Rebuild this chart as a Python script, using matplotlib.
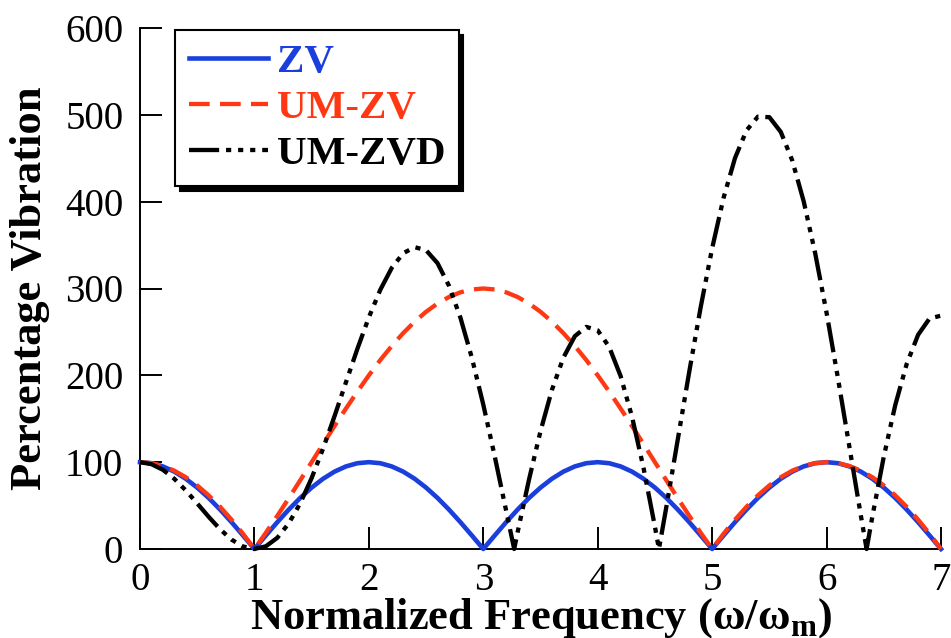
import numpy as np
import matplotlib
matplotlib.use("Agg")
import matplotlib.pyplot as plt

plt.rcParams['font.family'] = ['Liberation Serif', 'DejaVu Serif']
plt.rcParams['mathtext.fontset'] = 'custom'
plt.rcParams['mathtext.rm'] = 'Liberation Serif'
plt.rcParams['mathtext.bf'] = 'Liberation Serif:bold'

# normalized frequency grid, step 0.1
freq = np.linspace(0, 7, 71)

# percentage vibration
zv = [100, 98.8, 95.1, 89.1, 80.9, 70.7, 58.8, 45.4, 30.9, 15.6,
      0, 15.6, 30.9, 45.4, 58.8, 70.7, 80.9, 89.1, 95.1, 98.8,
      100, 98.8, 95.1, 89.1, 80.9, 70.7, 58.8, 45.4, 30.9, 15.6,
      0, 15.6, 30.9, 45.4, 58.8, 70.7, 80.9, 89.1, 95.1, 98.8,
      100, 98.8, 95.1, 89.1, 80.9, 70.7, 58.8, 45.4, 30.9, 15.6,
      0, 15.6, 30.9, 45.4, 58.8, 70.7, 80.9, 89.1, 95.1, 98.8,
      100, 98.8, 95.1, 89.1, 80.9, 70.7, 58.8, 45.4, 30.9, 15.6,
      0]

um_zv = [100, 98.9, 95.6, 90.2, 82.7, 73.2, 61.8, 48.6, 33.8, 17.6,
         0, 18.7, 38.2, 58.4, 79.1, 100, 120.9, 141.6, 161.8, 181.3,
         200, 217.6, 233.8, 248.6, 261.8, 273.2, 282.7, 290.2, 295.6, 298.9,
         300, 298.9, 295.6, 290.2, 282.7, 273.2, 261.8, 248.6, 233.8, 217.6,
         200, 181.3, 161.8, 141.6, 120.9, 100, 79.1, 58.4, 38.2, 18.7,
         0, 17.6, 33.8, 48.6, 61.8, 73.2, 82.7, 90.2, 95.6, 98.9,
         100, 98.9, 95.6, 90.2, 82.7, 73.2, 61.8, 48.6, 33.8, 17.6,
         0]

um_zvd = [100, 97.7, 91.2, 80.8, 67.5, 52.5, 37.1, 22.7, 10.8, 2.9,
          0.1, 3.1, 12.9, 29.5, 52.6, 81.7, 115.7, 153.0, 192.0, 230.6,
          266.8, 298.5, 323.7, 340.6, 347.6, 344.1, 329.2, 303.2, 266.5, 220.3,
          166.3, 106.7, 43.9, 19.4, 80.2, 135.7, 183.3, 220.4, 245.1, 255.8,
          251.8, 232.8, 199.2, 152.2, 93.6, 25.7, 48.6, 126.4, 204.2, 278.6,
          346.3, 404.5, 450.3, 482.0, 497.9, 497.3, 480.3, 447.5, 400.4, 340.9,
          272.0, 196.3, 117.2, 38.2, 37.3, 106.3, 165.6, 213.0, 246.7, 265.5,
          268.7]
# where the UM-ZVD curve touches zero between grid points
zvd_zero_freq = [3.27, 4.535, 6.35]

labels = ['ZV', 'UM-ZV', 'UM-ZVD']
colors = ['#1a3fdc', '#ff3814', 'black']

fig = plt.figure(figsize=(9.51, 6.38), dpi=100)
ax = fig.add_axes([140 / 951, 1 - 549 / 638, 801 / 951, 521 / 638])

f_zvd = np.concatenate([freq, zvd_zero_freq])
v_zvd = np.concatenate([um_zvd, np.zeros(len(zvd_zero_freq))])
order = np.argsort(f_zvd)

l1, = ax.plot(freq, zv, color=colors[0], lw=3.3, clip_on=False, zorder=3)
l2, = ax.plot(freq, um_zv, color=colors[1], lw=3.1, ls=(0, (4.8, 2.4)),
              clip_on=False, zorder=4)
l3, = ax.plot(f_zvd[order], v_zvd[order], color=colors[2], lw=3.1,
              ls=(0, (7, 1.6, 1.2, 1.6, 1.2, 1.6, 1.2, 1.6)),
              clip_on=False, zorder=5)

ax.set_xlim(0, 7)
ax.set_ylim(0, 600)
ax.set_xticks(range(0, 8))
ax.set_yticks(range(0, 601, 100))
ax.spines['top'].set_visible(False)
ax.spines['right'].set_visible(False)
for s in ['left', 'bottom']:
    ax.spines[s].set_linewidth(1.4)
ax.tick_params(direction='in', length=16, width=1.4, labelsize=28)
ax.tick_params(axis='x', pad=9)
ax.tick_params(axis='y', pad=12)

ax.set_xlabel('Normalized Frequency (ω/ω$_\\mathbf{m}$)', fontsize=32,
              fontweight='bold')
ax.xaxis.set_label_coords(0.5, -0.09)
ax.set_ylabel('Percentage Vibration', fontsize=32, fontweight='bold')
ax.yaxis.set_label_coords(-0.112, 0.5)

leg = ax.legend([l1, l2, l3], labels, loc='upper left',
                bbox_to_anchor=(175 / 951, 1 - 30 / 638),
                bbox_transform=fig.transFigure, borderaxespad=0,
                prop={'weight': 'bold', 'size': 29.5},
                handlelength=1.95, handletextpad=0.2, labelspacing=0.2,
                borderpad=0.33, fancybox=False, edgecolor='black',
                framealpha=1,
                shadow={'color': 'black', 'alpha': 1, 'ox': 3.5, 'oy': -3.5})
leg.get_frame().set_linewidth(1.5)
for t, c in zip(leg.get_texts(), colors):
    t.set_color(c)

fig.savefig('out.png', dpi=100)
